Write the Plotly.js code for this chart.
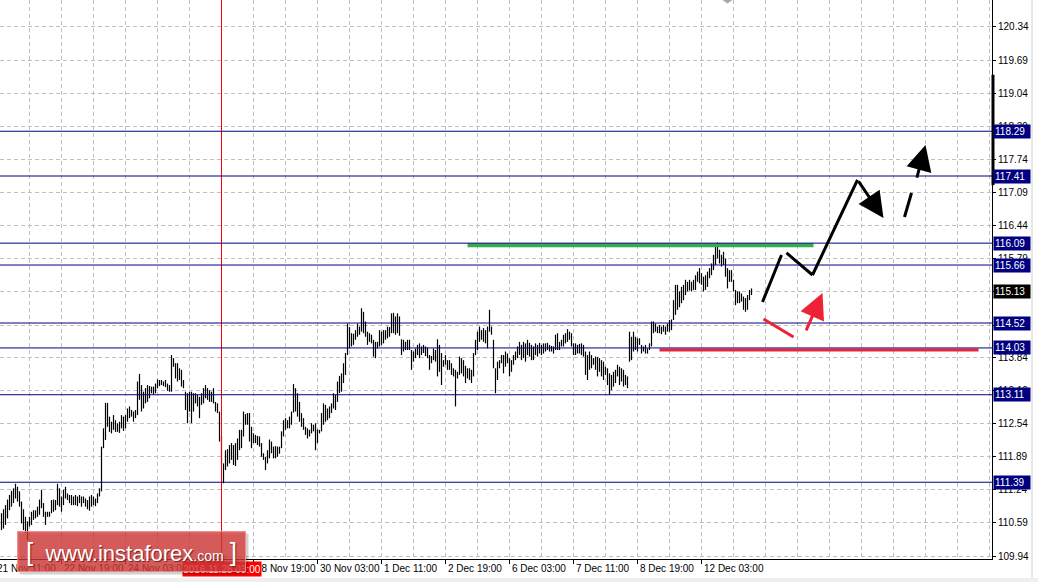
<!DOCTYPE html>
<html><head><meta charset="utf-8">
<script src="https://cdn.plot.ly/plotly-3.0.1.min.js"></script>
<style>html,body{margin:0;padding:0;background:#fff;overflow:hidden}#chart{width:1038px;height:582px}</style>
</head><body><div id="chart"></div>
<script>
// ---- data (hourly bars, index 0 = 21 Nov 11:00) ----
const firstBar = 2;
const barHigh = [
110.78,110.86,110.94,111.05,111.14,111.22,111.27,111.36,111.30,111.21,
111.01,110.86,110.71,110.62,110.71,110.81,110.84,110.84,110.91,111.05,
111.24,110.98,110.81,110.81,110.81,111.04,111.05,111.04,111.36,111.27,
111.11,111.24,111.30,111.17,111.14,111.14,111.11,111.14,111.11,111.14,
111.11,111.11,111.07,111.04,111.11,111.14,111.11,111.07,111.17,111.27,
112.09,112.45,112.95,112.95,112.68,112.58,112.71,112.61,112.55,112.58,
112.71,112.68,112.71,112.84,112.88,112.81,112.78,112.81,113.37,113.52,
113.30,113.17,113.24,113.30,113.28,113.27,113.27,113.33,113.41,113.40,
113.40,113.37,113.40,113.33,113.30,113.89,113.83,113.73,113.73,113.63,
113.60,113.40,113.17,113.14,113.17,113.17,113.14,113.14,113.11,113.07,
113.14,113.24,113.30,113.24,113.20,113.17,113.24,112.97,112.94,112.78,
112.30,111.76,112.02,112.04,112.12,112.16,112.12,112.16,112.25,112.42,
112.42,112.78,112.73,112.75,112.75,112.48,112.35,112.32,112.30,112.29,
112.16,111.96,111.89,112.02,112.23,112.19,112.09,112.10,112.09,112.09,
112.39,112.61,112.65,112.61,112.68,112.78,113.32,113.24,113.14,112.97,
112.75,112.65,112.48,112.45,112.42,112.55,112.52,112.55,112.43,112.42,
112.75,112.94,112.91,112.84,112.88,112.94,113.14,113.11,113.37,113.48,
113.53,113.73,113.93,114.51,114.44,114.32,114.31,114.38,114.51,114.45,
114.81,114.74,114.55,114.35,114.32,114.29,114.19,114.15,114.15,114.38,
114.35,114.38,114.38,114.45,114.44,114.71,114.72,114.65,114.71,114.65,
114.20,114.19,114.15,114.19,114.19,113.99,113.96,114.02,114.09,114.12,
114.06,114.09,114.06,114.04,113.89,113.87,114.02,113.99,114.20,114.09,
113.93,113.79,113.89,113.79,113.79,113.73,113.63,113.60,113.56,113.86,
113.83,113.79,113.68,113.63,113.63,113.60,113.93,114.19,114.35,114.45,
114.38,114.42,114.38,114.45,114.78,114.45,114.19,113.63,113.76,113.79,
113.89,113.89,113.96,113.92,113.83,113.79,113.89,113.96,114.06,114.15,
114.09,114.15,114.12,114.19,114.13,114.09,114.06,114.12,114.09,114.13,
114.09,114.12,114.12,114.13,114.09,114.07,114.06,114.29,114.32,114.15,
114.19,114.29,114.32,114.40,114.35,114.32,114.12,114.12,114.09,114.11,
114.12,114.09,113.96,113.89,113.96,113.89,113.83,113.86,113.85,113.83,
113.79,113.76,113.66,113.63,113.53,113.50,113.56,113.60,113.70,113.66,
113.63,113.60,113.50,113.47,114.35,114.25,114.35,114.25,114.22,114.22,
114.09,114.06,114.09,114.02,114.12,114.55,114.55,114.51,114.45,114.48,
114.45,114.48,114.45,114.51,114.58,114.59,114.97,115.27,115.27,115.14,
115.23,115.27,115.37,115.33,115.37,115.33,115.37,115.46,115.53,115.60,
115.50,115.43,115.46,115.53,115.60,115.69,115.86,116.02,116.10,115.96,
115.86,115.92,115.79,115.60,115.56,115.56,115.37,115.17,115.14,115.14,
115.10,115.04,115.01,115.07,115.17,115.20];
const barLow = [
110.45,110.48,110.55,110.68,110.84,110.91,110.98,111.07,111.01,110.91,
110.58,110.45,110.39,110.25,110.52,110.55,110.65,110.68,110.71,110.75,
110.88,110.71,110.55,110.71,110.71,110.78,110.81,110.84,110.94,110.91,
110.81,110.94,111.07,111.04,110.98,110.94,110.94,110.94,110.92,110.98,
110.91,110.98,110.91,110.86,110.83,110.91,110.94,110.92,110.98,111.11,
111.21,112.06,112.22,112.48,112.38,112.35,112.42,112.38,112.38,112.36,
112.45,112.40,112.45,112.58,112.65,112.68,112.58,112.65,112.71,113.01,
112.78,112.84,112.94,112.97,113.04,113.14,113.11,113.14,113.24,113.28,
113.30,113.28,113.26,113.19,113.17,113.17,113.66,113.43,113.37,113.40,
113.27,113.24,112.81,112.55,112.78,112.55,112.78,112.94,112.88,112.65,
112.91,112.94,113.04,113.01,112.97,112.97,112.94,112.78,112.75,112.19,
111.75,111.37,111.63,111.70,111.76,111.83,111.73,111.71,111.83,112.02,
112.06,112.29,112.52,112.52,112.19,112.06,112.16,112.16,112.12,112.09,
111.89,111.83,111.63,111.76,111.86,111.96,111.86,111.86,111.89,111.95,
112.06,112.29,112.42,112.45,112.45,112.52,112.76,112.78,112.68,112.58,
112.48,112.42,112.32,112.25,112.29,112.35,112.39,112.02,112.16,112.35,
112.39,112.52,112.58,112.61,112.65,112.75,112.84,112.81,112.97,113.14,
113.17,113.34,113.50,113.89,114.02,114.06,114.09,114.19,114.25,114.29,
114.35,114.32,114.25,114.09,114.15,114.12,113.86,113.83,114.02,114.06,
114.09,114.12,114.19,114.22,114.25,114.32,114.32,114.29,114.32,114.27,
113.89,113.96,113.99,113.99,113.99,113.60,113.76,113.83,113.89,113.83,
113.89,113.93,113.87,113.83,113.60,113.73,113.79,113.76,113.47,113.56,
113.30,113.66,113.70,113.60,113.60,113.50,113.47,112.88,113.43,113.50,
113.53,113.47,113.34,113.43,113.40,113.34,113.47,113.89,113.99,114.15,
114.19,114.15,114.12,114.02,114.35,114.29,113.63,113.14,113.40,113.63,
113.73,113.53,113.66,113.73,113.47,113.56,113.70,113.79,113.83,113.89,
113.79,113.83,113.76,113.89,113.86,113.79,113.79,113.89,113.86,113.92,
113.89,113.92,113.96,113.99,113.96,113.96,113.92,113.99,113.99,113.99,
114.06,114.06,114.12,114.15,114.19,114.06,113.89,113.89,113.92,113.92,
113.89,113.86,113.50,113.40,113.60,113.63,113.70,113.60,113.47,113.56,
113.47,113.40,113.50,113.30,113.11,113.20,113.27,113.34,113.47,113.30,
113.37,113.27,113.30,113.24,113.76,113.79,113.96,113.99,113.96,114.09,
113.92,113.96,113.92,113.92,113.99,114.06,114.32,114.35,114.32,114.32,
114.30,114.35,114.29,114.35,114.35,114.38,114.58,114.68,114.78,114.83,
114.91,114.97,115.07,115.14,115.16,115.14,115.17,115.17,115.33,115.30,
115.27,115.14,115.17,115.23,115.40,115.46,115.56,115.66,115.79,115.69,
115.63,115.66,115.43,115.20,115.33,115.33,115.14,114.87,114.91,114.91,
114.94,114.78,114.74,114.78,114.97,115.07];

const timeTickBars = [0,32,64,96,128,160,192,224,256,288,320,352];
const timeTickLabels = ['21 Nov 11:00','22 Nov 19:00','24 Nov 03:00','','28 Nov 19:00','30 Nov 03:00','1 Dec 11:00','2 Dec 19:00','6 Dec 03:00','7 Dec 11:00','8 Dec 19:00','12 Dec 03:00'];
const cursorBar = 112;
const cursorLabel = '2016.11.28 03:00';
const priceTicks = [109.94,110.59,111.24,111.89,112.54,113.19,113.84,114.48,115.13,115.79,116.44,117.09,117.74,118.39,119.04,119.69,120.34];
const hiddenTicks = [114.48,115.13];
const levels = [118.29,117.41,116.09,115.66,114.52,114.03,113.11,111.39];
const lastPrice = 115.13;
// analyst drawing: [bar, price] points
const greenLine = [[235,116.05],[408,116.05]];
const redLine = [[331,113.99],[490.5,113.99]];
const blackPath = [[394.5,115.897],[407.5,115.464],[430,117.332]];
const blackSeg = [[382.5,114.933],[392,115.857]];
const blackArrow = [[430,117.332],[443,116.585]];
const dashSeg = [[453.5,116.604],[457,117.076]];
const dashArrow = [[459.5,117.351],[464,118.02]];
const redSeg = [[383,114.599],[398,114.245]];
const redArrow = [[404,114.344],[412.5,115.11]];

// ---- build ----
const F = 'Liberation Sans, Arial, sans-serif';
const X0 = 1.25, X1 = 497.25, Y0 = 109.881, Y1 = 120.87;
const px = i => (i - X0) / (X1 - X0);
const bx = [], by = [];
barHigh.forEach((h, k) => { const i = firstBar + k; bx.push(i, i, null); by.push(barLow[k], h, null); });

const bars = {type:'scatter', mode:'lines', x:bx, y:by, line:{color:'#000', width:1.2}, hoverinfo:'skip', showlegend:false};

const minorVals = [];
for (let v = 16; v < X1; v += 16) if (!timeTickBars.includes(v)) minorVals.push(v);

const shapes = [];
const seg = (pts, color, width, dash) => {
  for (let k = 0; k < pts.length - 1; k++) shapes.push({type:'line', xref:'x', yref:'y', x0:pts[k][0], y0:pts[k][1], x1:pts[k+1][0], y1:pts[k+1][1], line:{color, width, dash:dash||'solid'}, layer:'above'});
};
shapes.push({type:'line', xref:'x', yref:'paper', x0:cursorBar, x1:cursorBar, y0:0, y1:1, line:{color:'#ff0000', width:1}, layer:'above'});
seg(greenLine, '#33ad50', 4);
seg(redLine, '#ee2236', 3);
levels.forEach(l => shapes.push({type:'line', xref:'paper', yref:'y', x0:0, x1:1, y0:l, y1:l, line:{color:'#000080', width:1}, layer:'above'}));
seg(blackSeg, '#000', 3);
seg(blackPath, '#000', 3);
seg(dashSeg, '#000', 3);
seg(redSeg, '#ee2236', 3);
// right-axis scroll marker and chart-shift mark
shapes.push({type:'line', xref:'paper', yref:'y', x0:1.001, x1:1.001, y0:117.23, y1:119.40, line:{color:'#000', width:3}});
shapes.push({type:'path', xref:'x', yref:'y', path:'M 362.5 120.87 L 367.5 120.87 L 365 120.80 Z', fillcolor:'#a8a8a8', line:{width:0}});
// right sliver and bottom band
shapes.push({type:'line', xref:'paper', yref:'paper', x0:1032/992, x1:1032/992, y0:-0.05, y1:1, line:{color:'#d0d0d0', width:1}});
shapes.push({type:'rect', xref:'paper', yref:'paper', x0:-0.01, x1:1.05, y0:-0.05, y1:-0.034, fillcolor:'#efefef', line:{width:0}});

const anns = [];
timeTickBars.forEach((b, k) => { if (timeTickLabels[k]) anns.push({xref:'paper', x:px(b), xanchor:'left', xshift:(k===0?-3:0), yref:'paper', y:0, yanchor:'top', yshift:-2, text:timeTickLabels[k], showarrow:false, font:{family:F, size:10, color:'#000'}}); });
anns.push({xref:'paper', x:px(cursorBar), xanchor:'center', yref:'paper', y:0, yanchor:'top', yshift:-2, text:cursorLabel, showarrow:false, bgcolor:'#ff0000', borderpad:1, width:76, height:12, font:{family:F, size:10, color:'#fff'}});
const arrow = (pts, color) => anns.push({xref:'x', yref:'y', axref:'x', ayref:'y', x:pts[1][0], y:pts[1][1], ax:pts[0][0], ay:pts[0][1], text:'', showarrow:true, arrowhead:2, arrowsize:1.7, arrowwidth:3, arrowcolor:color, standoff:0, startstandoff:0});
arrow(blackArrow, '#000');
arrow(dashArrow, '#000');
arrow(redArrow, '#ee2236');
// watermark
anns.push({xref:'paper', x:19/992, xanchor:'left', yref:'paper', y:(559-533)/559, yanchor:'top', width:226, height:38, text:'', showarrow:false, bgcolor:'rgba(0,0,0,0.18)'});
anns.push({xref:'paper', x:17/992, xanchor:'left', yref:'paper', y:(559-531)/559, yanchor:'top', width:225, height:37, showarrow:false, bgcolor:'rgba(214,58,58,0.78)', bordercolor:'rgba(238,140,140,0.9)', borderwidth:1,
  text:'<span style="font-size:26px">[</span>  www.instaforex<span style="font-size:14px">.com</span> <span style="font-size:26px">]</span>', font:{family:F, size:22, color:'#ffffff', shadow:'1px 1px 1px rgba(90,20,20,0.8)'}});
levels.forEach(l => anns.push({xref:'paper', x:1, xanchor:'left', xshift:1, yref:'y', y:l, yanchor:'middle', text:l.toFixed(2), showarrow:false, bgcolor:'#000080', borderpad:1, width:34, height:11, align:'left', font:{family:F, size:10, color:'#fff'}}));
anns.push({xref:'paper', x:1, xanchor:'left', xshift:1, yref:'y', y:lastPrice, yanchor:'middle', text:lastPrice.toFixed(2), showarrow:false, bgcolor:'#000', borderpad:1, width:34, height:11, align:'left', font:{family:F, size:10, color:'#fff'}});

const layout = {
  width:1038, height:582,
  margin:{l:0, r:46, t:0, b:23},
  paper_bgcolor:'#fff', plot_bgcolor:'#fff',
  showlegend:false,
  font:{family:F, size:10, color:'#000'},
  xaxis:{range:[X0, X1], tickvals:timeTickBars, showticklabels:false, ticks:'outside', ticklen:4, tickcolor:'#000',
    showgrid:true, gridcolor:'#c0c0c0', griddash:'4px,3px', gridwidth:1, zeroline:false,
    showline:true, linecolor:'#000', linewidth:1,
    minor:{tickmode:'array', tickvals:minorVals, showgrid:true, gridcolor:'#c0c0c0', griddash:'4px,3px', ticks:''}},
  yaxis:{range:[Y0, Y1], side:'right', tickvals:priceTicks, ticktext:priceTicks.map(v=>hiddenTicks.includes(v)?'':v.toFixed(2)), ticks:'outside', ticklen:3, tickcolor:'#000',
    showgrid:true, gridcolor:'#c0c0c0', griddash:'4px,3px', zeroline:false, showline:true, linecolor:'#000', linewidth:1,
    tickfont:{family:F, size:10, color:'#000'}},
  shapes, annotations:anns
};
Plotly.newPlot('chart', [bars], layout, {displayModeBar:false, staticPlot:true});
</script></body></html>
